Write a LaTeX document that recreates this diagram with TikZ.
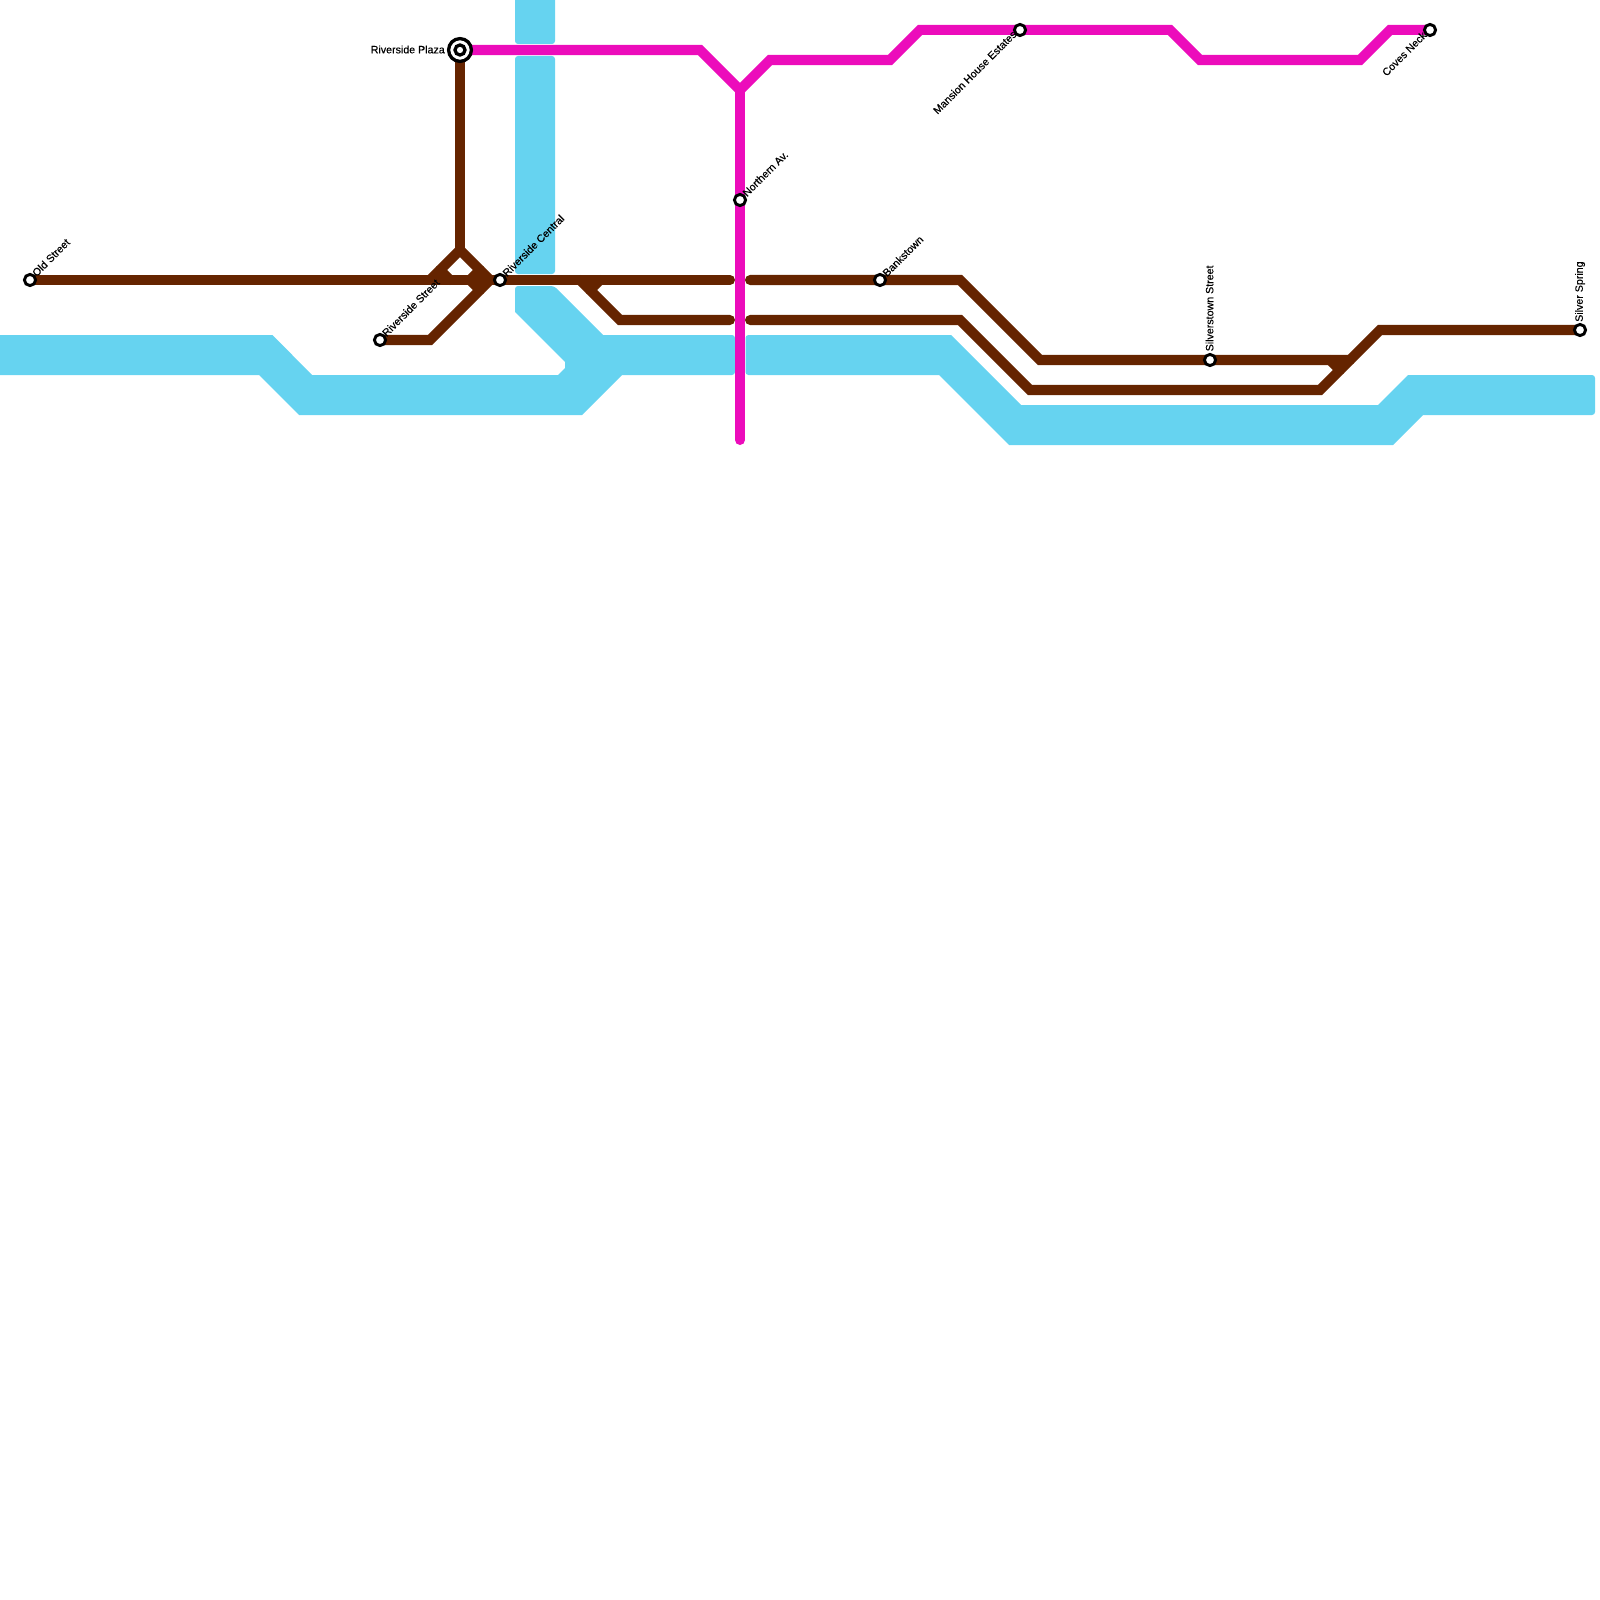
\documentclass[tikz,border=0pt]{standalone}
\usepackage{fontspec}
\newfontfamily\stopfont[FakeBold=0.35]{Liberation Sans}
\usepackage{tikz}
\definecolor{rivercol}{HTML}{66D3F0}
\definecolor{brownline}{HTML}{652400}
\definecolor{pinkline}{HTML}{EC0CBB}
\tikzset{
  river/.style={fill=rivercol},
  roundend/.style={rounded corners=0.85pt},
  brownrun/.style={brownline, line width=1mm, line cap=round},
  pinkrun/.style={pinkline, line width=1mm, line cap=round},
  stop/.style={circle, draw=black, fill=white, line width=0.29mm, minimum size=1.12mm, inner sep=0pt},
  stoplabel/.style={font=\stopfont\fontsize{3.03}{3.6}\selectfont, inner sep=0pt, text=black}
}
\begin{document}
\begin{tikzpicture}[x=0.01cm, y=-0.01cm]
  \useasboundingbox (0,0) rectangle (1600,1600);

  % fiume
  \fill[river, roundend] (515,-10) -- (555,-10) -- (555,44) -- (515,44) -- cycle;
  \fill[river, roundend] (515,56) -- (555,56) -- (555,274) -- (515,274) -- cycle;
  \fill[river] (-10,335) -- (272.5,335) -- (312,375) -- (558,375) -- (565,368) -- (565,362)
    -- (515,312) [roundend] -- (515,286) -- (554,286) [sharp corners] -- (603,335) [roundend] -- (735,335) -- (735,375)
    [sharp corners] -- (622,375) -- (582,415) -- (299,415) -- (259,375) -- (-10,375) -- cycle;
  \fill[river] (745.5,375) [roundend] -- (745.5,335) [sharp corners] -- (951,335) -- (1021,405) -- (1378,405) -- (1408,375)
    [roundend] -- (1595,375) -- (1595,415) [sharp corners] -- (1423,415) -- (1393,445)
    -- (1009,445) -- (939,375) [roundend] -- cycle;

  % fermate
  \coordinate (oldstreet) at (30,280);
  \coordinate (riversidestreet) at (380,340);
  \coordinate (riversidecentral) at (500,280);
  \coordinate (riversideplaza) at (460,50);
  \coordinate (northernav) at (740,200);
  \coordinate (bankstown) at (880,280);
  \coordinate (mansionhouse) at (1020,30);
  \coordinate (silverstown) at (1210,360);
  \coordinate (silverspring) at (1580,330);
  \coordinate (covesneck) at (1430,30);

  % linea marrone
  \draw[brownrun] (oldstreet) -- (riversidecentral) -- (730,280);
  \draw[brownrun] (riversideplaza) -- (460,250);
  \draw[brownrun] (430,280) -- (460,250) -- (490,280) -- (430,340) -- (riversidestreet);
  \draw[brownrun] (440,270) -- (450,280);
  \draw[brownrun] (480,270) -- (470,280) -- (480,290);
  \draw[brownrun] (580,280) -- (620,320) -- (730,320);
  \draw[brownrun] (600,280) -- (590,290);
  \draw[brownrun] (750,280) -- (bankstown) -- (960,280) -- (1040,360) -- (silverstown) -- (1350,360);
  \draw[brownrun] (750,320) -- (960,320) -- (1030,390) -- (1320,390) -- (1380,330) -- (silverspring);
  \draw[brownrun] (1330,360) -- (1340,370);

  % linea rosa
  \draw[pinkrun] (riversideplaza) -- (700,50) -- (740,90) -- (770,60) -- (890,60) -- (920,30)
    -- (mansionhouse) -- (1170,30) -- (1200,60) -- (1360,60) -- (1390,30) -- (covesneck);
  \draw[pinkrun] (740,90) -- (northernav) -- (740,440);

  % cerchi
  \node[stop] (stopold) at (oldstreet) {};
  \node[stop] (stopstreet) at (riversidestreet) {};
  \node[stop] (stopcentral) at (riversidecentral) {};
  \node[stop, minimum size=2.28mm, line width=0.33mm] (stopplazaout) at (riversideplaza) {};
  \node[stop, minimum size=1mm, line width=0.33mm] (stopplaza) at (riversideplaza) {};
  \node[stop] (stopnorthern) at (northernav) {};
  \node[stop] (stopbanks) at (bankstown) {};
  \node[stop] (stopmansion) at (mansionhouse) {};
  \node[stop] (stopsilverstown) at (silverstown) {};
  \node[stop] (stopspring) at (silverspring) {};
  \node[stop] (stopcoves) at (covesneck) {};

  % nomi
  \node[stoplabel, rotate=45, anchor=west] (lblold) at (33.5,275) {Old Street};
  \node[stoplabel, rotate=45, anchor=west] (lblstreet) at (383.5,335) {Riverside Street};
  \node[stoplabel, rotate=45, anchor=west] (lblcentral) at (504,275) {Riverside Central};
  \node[stoplabel, anchor=east] (lblplaza) at (445.5,49.5) {Riverside Plaza};
  \node[stoplabel, rotate=45, anchor=west] (lblnorthern) at (744,195) {Northern Av.};
  \node[stoplabel, rotate=45, anchor=west] (lblbanks) at (884,275) {Bankstown};
  \node[stoplabel, rotate=45, anchor=east] (lblmansion) at (1015,32) {Mansion House Estates};
  \node[stoplabel, rotate=90, anchor=west] (lblsilverstown) at (1209.5,352) {Silverstown Street};
  \node[stoplabel, rotate=90, anchor=west] (lblspring) at (1580,322.5) {Silver Spring};
  \node[stoplabel, rotate=45, anchor=east] (lblcoves) at (1425,33) {Coves Neck};
\end{tikzpicture}
\end{document}
